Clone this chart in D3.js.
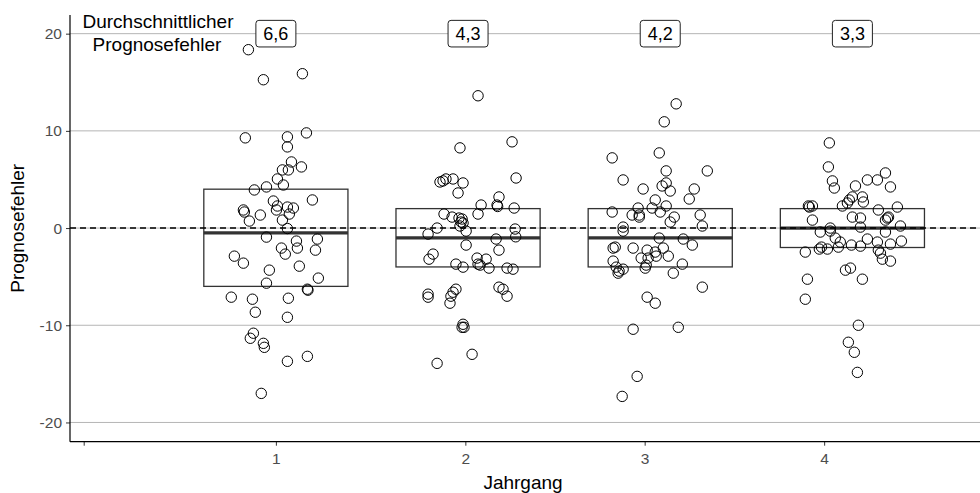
<!DOCTYPE html>
<html><head><meta charset="utf-8">
<script src="https://cdn.jsdelivr.net/npm/d3@7"></script>
<style>
html,body{margin:0;padding:0;background:#fff;}
svg{display:block;font-family:"Liberation Sans",Arial,Helvetica,sans-serif;}
</style></head>
<body><svg id="c" width="980" height="493"></svg>
<script>
// ---- data ----
const categories = [1, 2, 3, 4];
const xTickAt = [0, 1, 1.986, 2.919, 3.853];
const xTickLabels = ["", "1", "2", "3", "4"];
const yTicks = [-20, -10, 0, 10, 20];
const boxQ3 = [4, 2, 2, 2];
const boxMedian = [-0.5, -1, -1, 0];
const boxQ1 = [-6, -4, -4, -2];
const avgErrorLabels = ["6,6", "4,3", "4,2", "3,3"];
const annotationLines = ["Durchschnittlicher", "Prognosefehler"];

const values1 = [18.35,15.26,15.88,9.28,9.38,8.35,9.79,6.80,6.29,5.98,5.98,5.05,4.43,4.23,3.92,2.78,2.89,2.27,1.86,1.65,2.16,2.06,1.86,1.44,1.34,0.72,0.82,-0.05,-0.93,-1.34,-1.13,-2.06,-2.06,-2.68,-2.27,-2.89,-3.61,-3.92,-4.33,-5.15,-5.67,-6.29,-6.39,-7.11,-7.32,-7.22,-8.66,-9.18,-10.82,-11.34,-11.86,-12.27,-13.71,-13.20,-17.01];
const jitter1 = [-0.143,-0.065,0.138,-0.159,0.060,0.060,0.159,0.081,0.133,0.034,0.065,0.008,0.039,-0.049,-0.112,-0.013,0.190,0.008,-0.169,-0.164,0.060,0.091,0.003,0.070,-0.081,-0.138,0.034,0.060,-0.049,0.107,0.216,0.029,0.112,0.049,0.206,-0.216,-0.169,0.122,-0.034,0.221,-0.049,0.164,0.167,-0.232,-0.122,0.065,-0.107,0.060,-0.117,-0.133,-0.065,-0.060,0.060,0.164,-0.076];
const values2 = [13.61,8.25,8.87,5.15,4.74,4.85,5.05,5.05,4.64,3.61,3.20,2.37,2.22,2.37,2.06,1.44,1.44,1.13,1.03,0.93,0.62,0.52,0.00,-0.10,0.21,-0.31,-0.62,-0.90,-1.75,-1.13,-2.27,-2.68,-3.20,-3.71,-4.02,-3.09,-3.20,-3.71,-3.81,-4.12,-4.12,-4.23,-6.80,-7.11,-6.29,-6.60,-7.01,-7.73,-6.08,-6.29,-7.01,-9.90,-10.21,-10.21,-12.99,-13.92];
const jitter2 = [0.052,-0.042,0.229,0.250,-0.146,-0.130,-0.115,-0.078,-0.026,-0.052,0.161,0.151,0.154,0.068,0.240,0.052,-0.125,-0.083,-0.047,-0.031,-0.036,-0.026,-0.161,0.245,-0.042,-0.010,-0.208,0.248,-0.010,0.146,0.161,-0.182,-0.203,-0.063,-0.026,0.047,0.094,0.052,0.063,0.109,0.203,0.234,-0.208,-0.208,-0.063,-0.078,-0.089,-0.094,0.161,0.182,0.203,-0.026,-0.031,-0.021,0.021,-0.161];
const values3 = [12.78,10.93,7.22,7.73,5.88,5.88,4.95,4.64,4.33,3.81,4.02,4.02,2.99,2.89,2.27,2.06,2.06,1.65,1.65,1.34,1.34,1.13,1.13,0.62,1.34,0.21,0.10,-0.31,-1.03,-1.13,-1.75,-2.06,-1.96,-2.06,-2.27,-2.47,-2.06,-2.89,-3.09,-3.09,-2.89,-3.40,-4.02,-4.43,-4.23,-4.64,-4.12,-3.81,-4.64,-3.71,-6.08,-7.11,-7.73,-10.41,-10.21,-15.26,-17.32];
const jitter3 = [0.083,0.021,-0.250,-0.005,0.031,0.245,-0.193,0.031,0.010,0.052,-0.089,0.177,0.151,-0.026,0.031,-0.042,-0.115,0,-0.250,-0.146,-0.109,-0.109,0.073,0.052,0.208,0.219,-0.193,-0.193,-0.005,0.120,0.167,-0.245,-0.234,-0.141,-0.068,-0.026,0.016,0.042,-0.099,-0.063,-0.021,-0.245,-0.229,-0.214,-0.193,-0.219,-0.078,-0.073,0.068,0.115,0.219,-0.068,-0.026,-0.141,0.094,-0.120,-0.198];
const values4 = [8.76,6.29,4.85,4.12,4.33,4.95,4.95,5.67,4.23,3.20,2.68,3.20,2.89,2.58,2.27,2.27,2.27,2.16,0.82,1.86,2.16,1.13,1.03,1.03,1.13,0.82,0.21,0.10,0.00,-0.41,-0.31,-0.41,-1.03,-1.44,-1.13,-1.44,-1.65,-1.34,-1.75,-1.86,-1.96,-1.96,-2.16,-2.16,-2.47,-2.27,-2.58,-3.20,-3.40,-4.33,-4.12,-5.26,-5.26,-7.32,-10.00,-11.75,-12.78,-14.85];
const jitter4 = [-0.120,-0.125,-0.104,-0.094,0.016,0.078,0.130,0.172,0.198,0.052,0.057,0,-0.016,-0.026,-0.052,-0.229,-0.208,-0.224,-0.208,0.135,0.234,0,0.042,0.182,0.188,0.172,0.250,0.042,-0.115,-0.167,-0.115,0.172,-0.089,-0.063,0.078,0.130,0.198,0.255,-0.005,0.042,-0.073,-0.161,-0.172,-0.130,-0.245,0.135,0.146,0.156,0.198,-0.036,-0.010,-0.234,0.052,-0.245,0.031,-0.021,0.010,0.026];

const groupValues = [values1, values2, values3, values4];
const groupJitter = [jitter1, jitter2, jitter3, jitter4];

// ---- layout ----
const svg = d3.select("#c");
const L = 70, R = 980, T = 15, B = 441.7;
const x = d3.scaleLinear().domain([-0.0713, 4.664]).range([L, R]);
const y = d3.scaleLinear().domain([-21.98, 21.92]).range([B, T]);
const boxHalf = 0.375;

// gridlines
svg.append("g").selectAll("line").data(yTicks).join("line")
  .attr("x1", L).attr("x2", R)
  .attr("y1", d => y(d)).attr("y2", d => y(d))
  .attr("stroke", "#b5b5b5").attr("stroke-width", 1);

// boxes
const bx = svg.append("g");
categories.forEach((c, i) => {
  bx.append("rect")
    .attr("x", x(c - boxHalf)).attr("width", x(c + boxHalf) - x(c - boxHalf))
    .attr("y", y(boxQ3[i])).attr("height", y(boxQ1[i]) - y(boxQ3[i]))
    .attr("fill", "none").attr("stroke", "#333").attr("stroke-width", 1.3);
  bx.append("line")
    .attr("x1", x(c - boxHalf)).attr("x2", x(c + boxHalf))
    .attr("y1", y(boxMedian[i])).attr("y2", y(boxMedian[i]))
    .attr("stroke", "#333").attr("stroke-width", 3.2);
});

// dashed zero line
svg.append("line").attr("x1", L).attr("x2", R)
  .attr("y1", y(0)).attr("y2", y(0))
  .attr("stroke", "#000").attr("stroke-width", 1.5)
  .attr("stroke-dasharray", "6,4");

// points
const pts = svg.append("g");
categories.forEach((c, i) => {
  pts.selectAll(null).data(groupValues[i]).join("circle")
    .attr("cx", (d, j) => x(c + groupJitter[i][j]))
    .attr("cy", d => y(d))
    .attr("r", 5.2)
    .attr("fill", "none").attr("stroke", "#000").attr("stroke-width", 1);
});

// axes
const yAxis = svg.append("g").attr("transform", `translate(${L},0)`)
  .call(d3.axisLeft(y).tickValues(yTicks).tickFormat(d => String(d)).tickSize(4).tickPadding(4));
const xAxis = svg.append("g").attr("transform", `translate(0,${B})`)
  .call(d3.axisBottom(x).tickValues(xTickAt).tickFormat((d, i) => xTickLabels[i]).tickSize(4).tickPadding(7));
[yAxis, xAxis].forEach(a => {
  a.select(".domain").remove();
  a.selectAll(".tick line").attr("stroke", "#333");
  a.selectAll(".tick text").attr("fill", "#4d4d4d").style("font-size", "15.5px")
    .style("font-family", "'Liberation Sans',Arial,sans-serif");
});
svg.append("line").attr("x1", L).attr("x2", L).attr("y1", T).attr("y2", B)
  .attr("stroke", "#000").attr("stroke-width", 1.2);
svg.append("line").attr("x1", L).attr("x2", R).attr("y1", B).attr("y2", B)
  .attr("stroke", "#000").attr("stroke-width", 1.2);

// axis titles
svg.append("text").attr("x", 523).attr("y", 489).attr("text-anchor", "middle")
  .style("font-size", "19px").attr("fill", "#000").text("Jahrgang");
svg.append("text").attr("transform", `translate(24,${(T + B) / 2}) rotate(-90)`)
  .attr("text-anchor", "middle").style("font-size", "19px").attr("fill", "#000").text("Prognosefehler");

// annotation
svg.append("text").attr("x", 158).attr("y", 28).attr("text-anchor", "middle")
  .style("font-size", "19px").text(annotationLines[0]);
svg.append("text").attr("x", 157).attr("y", 51).attr("text-anchor", "middle")
  .style("font-size", "19px").text(annotationLines[1]);

// label boxes
const lb = svg.append("g");
categories.forEach((c, i) => {
  const cx = x(c), cy = y(20);
  lb.append("rect").attr("x", cx - 20).attr("y", cy - 13.3).attr("width", 40).attr("height", 26.6)
    .attr("rx", 3).attr("fill", "#fff").attr("stroke", "#222").attr("stroke-width", 1);
  lb.append("text").attr("x", cx).attr("y", cy + 6.5).attr("text-anchor", "middle")
    .style("font-size", "18px").text(avgErrorLabels[i]);
});
</script></body></html>
